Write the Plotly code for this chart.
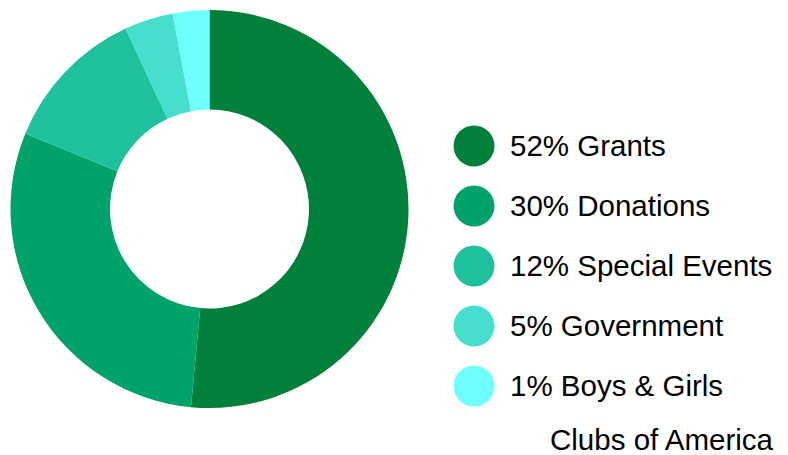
import plotly.graph_objects as go

# ---- data ----
categories = ["Grants", "Donations", "Special Events", "Government", "Boys & Girls Clubs of America"]
values = [52, 30, 12, 4, 3]
legend_labels = ["52% Grants", "30% Donations", "12% Special Events", "5% Government", "1% Boys & Girls"]
legend_extra = "Clubs of America"
colors = ["#00803A", "#00A26B", "#1FC19C", "#46DFCD", "#6FFFFF"]

W, H = 788, 455
FONT = "Liberation Sans, Arial, sans-serif"
FS = 29.5

fig = go.Figure()

fig.add_trace(go.Pie(
    labels=categories,
    values=values,
    marker=dict(colors=colors, line=dict(width=0)),
    hole=0.5,
    sort=False,
    direction="clockwise",
    rotation=0,
    textinfo="none",
    hoverinfo="skip",
    showlegend=False,
    domain=dict(x=[10 / W, 409 / W], y=[1 - 408 / H, 1 - 10 / H]),
))

# custom legend (pixel-space overlay axes)
leg_x = 474
leg_y0 = 146
leg_step = 60
ys = [leg_y0 + leg_step * i for i in range(len(legend_labels))]

fig.add_trace(go.Scatter(
    x=[leg_x] * len(ys), y=ys, mode="markers",
    marker=dict(size=41, color=colors, line=dict(width=0)),
    hoverinfo="skip", showlegend=False, cliponaxis=False,
))
fig.add_trace(go.Scatter(
    x=[510] * len(ys), y=[y + 3 for y in ys], mode="text",
    text=legend_labels, textposition="middle right",
    textfont=dict(family=FONT, size=FS, color="#000000"),
    hoverinfo="skip", showlegend=False, cliponaxis=False,
))
fig.add_trace(go.Scatter(
    x=[773], y=[ys[-1] + 54 + 3], mode="text",
    text=[legend_extra], textposition="middle left",
    textfont=dict(family=FONT, size=FS, color="#000000"),
    hoverinfo="skip", showlegend=False, cliponaxis=False,
))

fig.update_layout(
    width=W, height=H,
    margin=dict(l=0, r=0, t=0, b=0),
    paper_bgcolor="white", plot_bgcolor="rgba(0,0,0,0)",
    xaxis=dict(range=[0, W], visible=False, fixedrange=True),
    yaxis=dict(range=[H, 0], visible=False, fixedrange=True),
    showlegend=False,
)

fig.write_html(
    "out.html",
    config={"displayModeBar": False},
    post_script="document.body.style.margin='0';document.body.style.overflow='hidden';",
)
